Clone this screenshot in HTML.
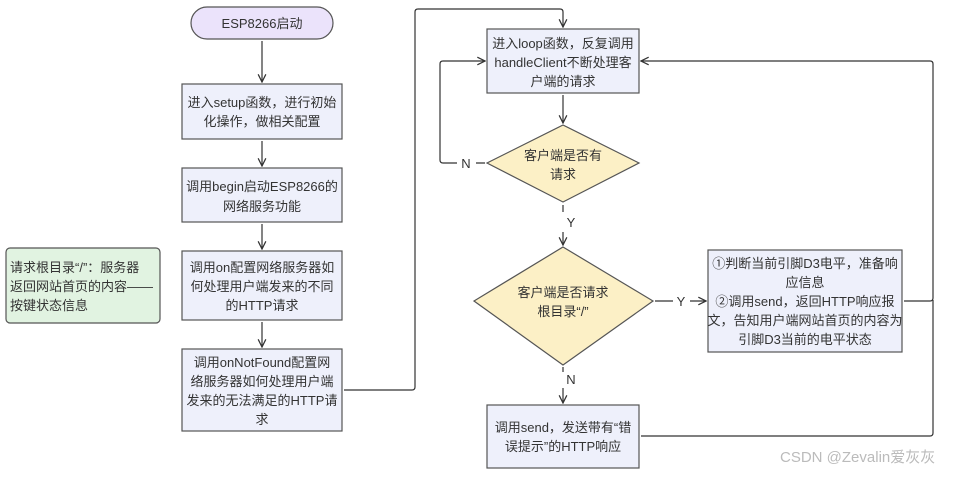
<!DOCTYPE html>
<html><head><meta charset="utf-8"><style>
body{margin:0;background:#fff;width:969px;height:474px;overflow:hidden;font-family:"Liberation Sans","Noto Sans CJK SC",sans-serif;}
svg text{font-family:"Liberation Sans","Noto Sans CJK SC",sans-serif;font-size:13px;fill:#333;}
</style></head><body>
<svg width="969" height="474" viewBox="0 0 969 474" xmlns="http://www.w3.org/2000/svg">
<defs><marker id="a" viewBox="0 0 10 10" refX="9" refY="5" markerWidth="8" markerHeight="8" orient="auto"><path d="M1,1 L9,5 L1,9" fill="none" stroke="#333" stroke-width="1.3"/></marker></defs>
<g stroke="#555" stroke-width="1.2">
<rect x="191" y="7" width="142" height="32" rx="16" fill="#ebe3fb"/>
<rect x="182" y="84" width="160" height="55" fill="#eef0fb"/>
<rect x="182" y="168" width="160" height="54" fill="#eef0fb"/>
<rect x="182" y="251" width="160" height="69" fill="#eef0fb"/>
<rect x="182" y="349" width="160" height="82" fill="#eef0fb"/>
<rect x="6" y="248" width="154" height="75" rx="4" fill="#e1f3e1"/>
<rect x="487" y="29" width="152" height="64" fill="#eef0fb"/>
<polygon points="563,125 639,163 563,202 487,163" fill="#fcf0c6"/>
<polygon points="563,247 653,301 563,365 474,301" fill="#fcf0c6"/>
<rect x="708" y="250" width="194" height="102" fill="#eef0fb"/>
<rect x="487" y="405" width="152" height="63" fill="#eef0fb"/>
</g>
<g stroke="#333" stroke-width="1.2" fill="none">
<line x1="262" y1="41" x2="262" y2="82" marker-end="url(#a)"/>
<line x1="262" y1="141" x2="262" y2="166" marker-end="url(#a)"/>
<line x1="262" y1="224" x2="262" y2="249" marker-end="url(#a)"/>
<line x1="262" y1="322" x2="262" y2="347" marker-end="url(#a)"/>
<path d="M344,390 H412 Q415,390 415,387 V12 Q415,9 418,9 H560 Q563,9 563,12 V27" marker-end="url(#a)"/>
<line x1="563" y1="95" x2="563" y2="123" marker-end="url(#a)"/>
<path d="M485,163 H476 M457,163 H443 Q440,163 440,160 V64 Q440,61 443,61 H485" marker-end="url(#a)"/>
<path d="M563,205 V212 M563,232 V245" marker-end="url(#a)"/>
<path d="M655,301 H673 M690,301 H706" marker-end="url(#a)"/>
<path d="M563,367 V372 M563,388 V403" marker-end="url(#a)"/>
<path d="M904,301 H930 Q933,301 933,298 V64 Q933,61 930,61 H641" marker-end="url(#a)"/>
<path d="M641,436 H930 Q933,436 933,433 V300"/>
</g>
<g text-anchor="middle">
<text x="262" y="28">ESP8266启动</text>
<text x="262" y="107">进入setup函数，进行初始</text><text x="262" y="126">化操作，做相关配置</text>
<text x="262" y="191">调用begin启动ESP8266的</text><text x="262" y="211">网络服务功能</text>
<text x="262" y="272">调用on配置网络服务器如</text><text x="262" y="291">何处理用户端发来的不同</text><text x="262" y="310">的HTTP请求</text>
<text x="262" y="367">调用onNotFound配置网</text><text x="262" y="386">络服务器如何处理用户端</text><text x="262" y="405">发来的无法满足的HTTP请</text><text x="262" y="424">求</text>
<text x="563" y="48">进入loop函数，反复调用</text><text x="563" y="67">handleClient不断处理客</text><text x="563" y="86">户端的请求</text>
<text x="563" y="160">客户端是否有</text><text x="563" y="179">请求</text>
<text x="563" y="297">客户端是否请求</text><text x="563" y="316">根目录“/”</text>
<text x="805" y="268">①判断当前引脚D3电平，准备响</text><text x="805" y="287">应信息</text><text x="805" y="306">②调用send，返回HTTP响应报</text><text x="805" y="325">文，告知用户端网站首页的内容为</text><text x="805" y="344">引脚D3当前的电平状态</text>
<text x="563" y="432">调用send，发送带有“错</text><text x="563" y="451">误提示”的HTTP响应</text>
<text x="466" y="168">N</text><text x="571" y="227">Y</text><text x="681" y="306">Y</text><text x="571" y="384">N</text>
</g>
<text x="10" y="272">请求根目录“/”：服务器</text><text x="10" y="291">返回网站首页的内容——</text><text x="10" y="310">按键状态信息</text>
<text x="780" y="462" style="font-size:15px;fill:#bbb">CSDN @Zevalin爱灰灰</text>
</svg>
</body></html>
